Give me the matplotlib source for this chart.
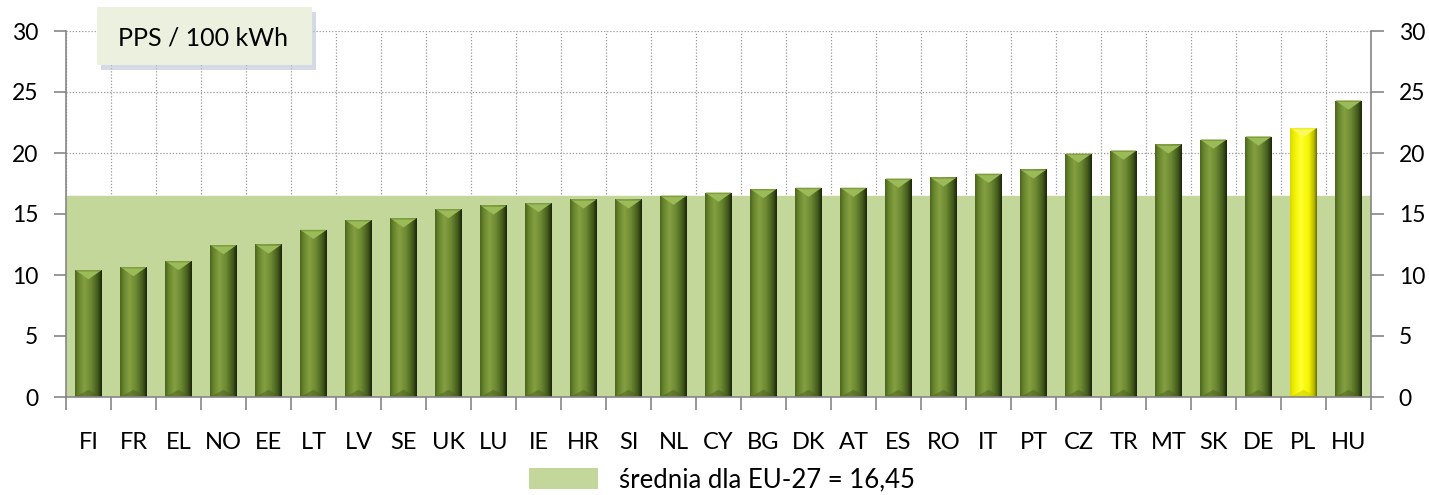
import numpy as np
import matplotlib
matplotlib.use("Agg")
import matplotlib.pyplot as plt
from matplotlib.patches import FancyBboxPatch, Polygon, Patch
from matplotlib.colors import LinearSegmentedColormap

plt.rcParams['font.family'] = ['Lato', 'DejaVu Sans']

countries = ["FI", "FR", "EL", "NO", "EE", "LT", "LV", "SE", "UK", "LU", "IE", "HR", "SI", "NL",
             "CY", "BG", "DK", "AT", "ES", "RO", "IT", "PT", "CZ", "TR", "MT", "SK", "DE", "PL", "HU"]
values = [10.4, 10.65, 11.15, 12.45, 12.5, 13.7, 14.5, 14.65, 15.4, 15.7, 15.9, 16.2, 16.2, 16.5,
          16.75, 17.05, 17.15, 17.15, 17.9, 18.0, 18.3, 18.65, 19.95, 20.2, 20.7, 21.1, 21.35, 22.05, 24.3]
highlight = "PL"
eu_avg = 16.45
avg_label = "średnia dla EU-27 = 16,45"
unit_label = "PPS / 100 kWh"
yticks = [0, 5, 10, 15, 20, 25, 30]

fig = plt.figure(figsize=(14.29, 4.95), dpi=100)
ax = fig.add_axes([66/1429, 1-397/495, (1371-66)/1429, (397-31)/495])

n = len(countries)
x = np.arange(n)
ax.set_xlim(-0.5, n - 0.5)
ax.set_ylim(0, 30)

# grid
for b in np.arange(-0.5, n + 0.5):
    ax.axvline(b, color='#9a9a9a', lw=0.9, ls=(0, (1, 1.5)), zorder=0)
for t in yticks[1:]:
    ax.axhline(t, color='#9a9a9a', lw=0.9, ls=(0, (1, 1.5)), zorder=0)

band = ax.axhspan(0, eu_avg, color='#c4d79b', zorder=1, label=avg_label)

green_cmap = LinearSegmentedColormap.from_list('g', [
    (0.0, '#4c6420'), (0.12, '#66842b'), (0.35, '#84a042'), (0.6, '#6c8932'),
    (0.85, '#435a1c'), (1.0, '#1c260b')])
yellow_cmap = LinearSegmentedColormap.from_list('y', [
    (0.0, '#d8d800'), (0.15, '#f0f000'), (0.4, '#ffff30'), (0.7, '#f4f400'),
    (0.9, '#b8b800'), (1.0, '#6e6e00')])
grad = np.linspace(0, 1, 64).reshape(1, -1)

w = 0.58
bars = ax.bar(x, values, width=w, color='#77923c', zorder=3, linewidth=0)
for xi, v, c, bar in zip(x, values, countries, bars):
    cmap = yellow_cmap if c == highlight else green_cmap
    im = ax.imshow(grad, cmap=cmap, aspect='auto', extent=(xi - w/2, xi + w/2, 0, v),
                   zorder=4, interpolation='bilinear')
    im.set_clip_path(bar)
    top = '#fafa60' if c == highlight else '#9bbb59'
    top2 = '#e6e600' if c == highlight else '#6f8c30'
    ax.add_patch(Polygon([(xi - w/2, v), (xi + w/2, v), (xi, v - 0.75)], closed=True,
                         facecolor=top, edgecolor='none', zorder=5))
    ax.add_patch(Polygon([(xi - w/2, v), (xi + w/2, v), (xi + w/2 - 0.05, v - 0.12), (xi - w/2 + 0.05, v - 0.12)],
                         closed=True, facecolor=top2, edgecolor='none', zorder=5, alpha=0.6))
    bot = '#c8c800' if c == highlight else '#4a5f20'
    ax.add_patch(Polygon([(xi - w/2, 0), (xi + w/2, 0), (xi, 0.6)], closed=True,
                         facecolor=bot, edgecolor='none', zorder=5, alpha=0.5))
ax.set_xlim(-0.5, n - 0.5)
ax.set_ylim(0, 30)

# axes styling
ax.spines['top'].set_visible(False)
for s in ['left', 'right', 'bottom']:
    ax.spines[s].set_color('#868686')
    ax.spines[s].set_linewidth(1.2)
    ax.spines[s].set_zorder(6)

ax.set_yticks(yticks)
ax.set_yticklabels([str(t) for t in yticks])
ax.tick_params(axis='y', which='major', left=True, right=True, labelleft=True, labelright=True,
               length=9, width=1.2, color='#868686', labelsize=16.5, pad=11, direction='out')

ax.set_xticks(np.arange(-0.5, n + 0.5))
ax.set_xticklabels([''] * (n + 1))
ax.tick_params(axis='x', which='major', length=9, width=1.2, color='#868686', direction='out')
ax.set_xticks(x, minor=True)
ax.set_xticklabels(countries, minor=True)
ax.tick_params(axis='x', which='minor', length=0, labelsize=17, pad=25)

# unit box
shadow = FancyBboxPatch((101/1429, 1-70/495), (312-97)/1429, (65-7)/495,
                        boxstyle='square,pad=0', transform=fig.transFigure,
                        facecolor='#b8c4d8', edgecolor='none', alpha=0.6, zorder=9)
fig.patches.append(shadow)
box = FancyBboxPatch((97/1429, 1-65/495), (312-97)/1429, (65-7)/495,
                     boxstyle='square,pad=0', transform=fig.transFigure,
                     facecolor='#ebf1de', edgecolor='none', zorder=10)
fig.patches.append(box)
fig.text(203/1429, 1-38/495, unit_label, ha='center', va='center', fontsize=18, zorder=11)

# legend
fig.legend(handles=[Patch(facecolor='#c4d79b', edgecolor='none', label=avg_label)],
           loc='center', bbox_to_anchor=(722/1429, 1-480/495), frameon=False,
           fontsize=18.5, handlelength=2.7, handleheight=0.9, handletextpad=0.8)

fig.savefig('out.png', dpi=100)
